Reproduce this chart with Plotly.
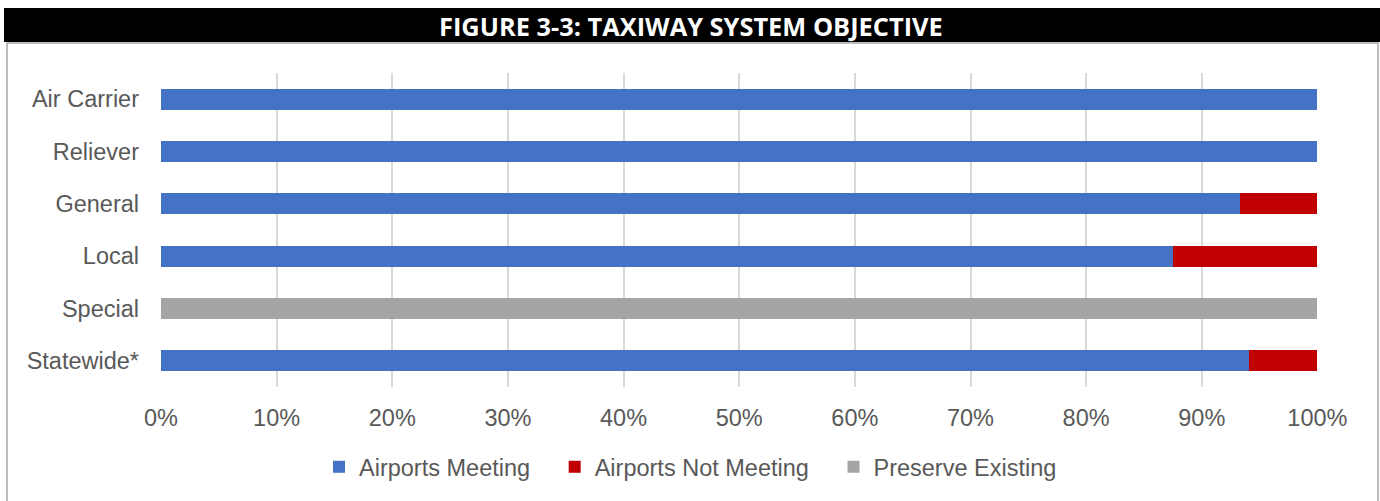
import plotly.graph_objects as go

# Airport classifications and share of airports by taxiway status (percent)
categories = ["Air Carrier", "Reliever", "General", "Local", "Special", "Statewide*"]
meeting = [100, 100, 93.3, 87.5, 0, 94.1]
not_meeting = [0, 0, 6.7, 12.5, 0, 5.9]
preserve = [0, 0, 0, 0, 100, 0]
series_names = ["Airports Meeting", "Airports Not Meeting", "Preserve Existing"]
tick_vals = [0, 10, 20, 30, 40, 50, 60, 70, 80, 90, 100]
tick_text = [f"{v}%" for v in tick_vals]
title_text = "FIGURE 3-3: TAXIWAY SYSTEM OBJECTIVE"

W, H = 1380, 501
ML, MR, MT, MB = 161, 62, 73, 114
PW, PH = W - ML - MR, H - MT - MB


def px_x(px):
    return (px - ML) / PW


def px_y(py):
    return (H - MB - py) / PH


FONT = "Liberation Sans, Arial, sans-serif"
TXT = "#595959"
PAD = "\u00a0\u00a0\u00a0"  # extra spacing after each legend label

fig = go.Figure()
colors = ["#4472C4", "#C00000", "#A5A5A5"]
for name, vals, color in zip(series_names, [meeting, not_meeting, preserve], colors):
    fig.add_trace(go.Bar(
        y=categories, x=vals, name=name + PAD, orientation="h",
        marker=dict(color=color, line=dict(width=0)),
        hovertemplate=f"{name}: %{{x}}%<extra></extra>",
    ))

# Outer frame and black title banner
fig.add_shape(type="rect", xref="paper", yref="paper",
              x0=px_x(7), x1=px_x(1378), y0=px_y(520), y1=px_y(43),
              line=dict(color="#A6A6A6", width=1.5), fillcolor="rgba(0,0,0,0)", layer="below")
fig.add_shape(type="rect", xref="paper", yref="paper",
              x0=px_x(4), x1=px_x(1385), y0=px_y(42), y1=px_y(8),
              line=dict(width=0), fillcolor="#000000", layer="above")
fig.add_annotation(text=f"<b>{title_text}</b>", xref="paper", yref="paper",
                   x=px_x(691), y=px_y(25.5), xanchor="center", yanchor="middle",
                   showarrow=False, font=dict(family="Open Sans", size=25.4, color="#FFFFFF"))

fig.update_layout(
    width=W, height=H,
    margin=dict(l=ML, r=MR, t=MT, b=MB, pad=0),
    paper_bgcolor="#FFFFFF", plot_bgcolor="#FFFFFF",
    barmode="stack", bargap=0.6,
    font=dict(family=FONT, size=23.5, color=TXT),
    showlegend=True,
    legend=dict(orientation="h", traceorder="normal", x=px_x(700), xanchor="center",
                y=px_y(467), yanchor="middle", font=dict(size=23.5, color=TXT),
                itemwidth=30, itemclick=False, bgcolor="rgba(0,0,0,0)"),
    xaxis=dict(range=[0, 100.05], tickvals=tick_vals, ticktext=tick_text,
               showgrid=True, gridcolor="#D9D9D9", gridwidth=1.5, zeroline=False,
               showline=False, ticks="", ticklabelstandoff=14,
               tickfont=dict(size=23.5, color=TXT), fixedrange=True),
    yaxis=dict(autorange="reversed", showgrid=False, zeroline=False, showline=False,
               ticks="", ticklabelstandoff=21, tickfont=dict(size=23.5, color=TXT),
               fixedrange=True),
)

fig.write_html("out.html")
